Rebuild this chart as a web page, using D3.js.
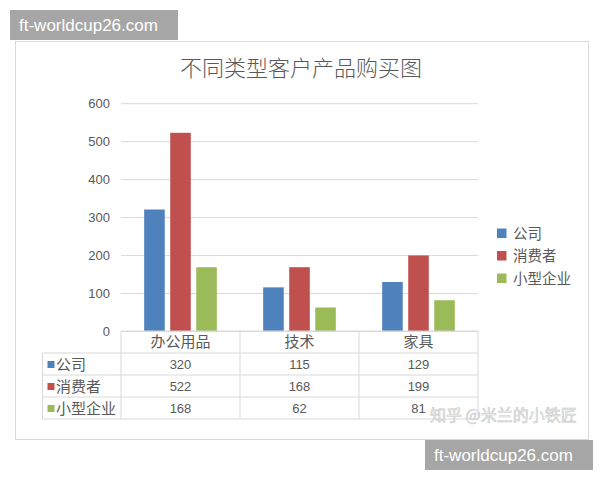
<!DOCTYPE html>
<html>
<head>
<meta charset="utf-8">
<script src="https://cdn.jsdelivr.net/npm/d3@7"></script>
<style>
  body { margin: 0; background: #fff; }
  text { font-family: "Noto Sans CJK SC", "Noto Sans", sans-serif; }
  .num { font-family: "Liberation Sans", Arial, sans-serif; }
</style>
</head>
<body>
<div class="root"></div>
<script>
const categories = ['办公用品', '技术', '家具'];
const seriesNames = ['公司', '消费者', '小型企业'];
const company = [320, 115, 129];
const consumer = [522, 168, 199];
const smallBiz = [168, 62, 81];
const yTicks = [0, 100, 200, 300, 400, 500, 600];
const colors = ['#4F81BD', '#C0504D', '#9BBB59'];

const series = [company, consumer, smallBiz];

const width = 600;
const height = 480;
const plot = { left: 121, right: 478, top: 103.2, bottom: 331 };
const rowH = 22;

const svg = d3.select('.root')
  .append('svg')
  .attr('width', width)
  .attr('height', height);

// chart frame
svg.append('rect')
  .attr('x', 15.5).attr('y', 41.5)
  .attr('width', 573).attr('height', 398)
  .attr('fill', '#fff')
  .attr('stroke', '#d9d9d9');

svg.append('text')
  .attr('x', 301).attr('y', 76)
  .attr('text-anchor', 'middle')
  .attr('font-size', 22)
  .attr('font-weight', 300)
  .attr('fill', '#595959')
  .text('不同类型客户产品购买图');

const x = d3.scaleBand()
  .domain(categories)
  .range([plot.left, plot.right]);

const xInner = d3.scaleBand()
  .domain(seriesNames)
  .range([0, x.bandwidth()])
  .paddingInner(0.21)
  .paddingOuter(0.89);

const y = d3.scaleLinear()
  .domain([0, 600])
  .range([plot.bottom, plot.top]);

const yAxis = svg.append('g')
  .attr('transform', `translate(${plot.left},0)`)
  .call(d3.axisLeft(y)
    .tickValues(yTicks)
    .tickSize(-(plot.right - plot.left))
    .tickPadding(11));

yAxis.select('.domain').remove();
yAxis.selectAll('.tick line').attr('stroke', '#d9d9d9');
yAxis.selectAll('.tick text')
  .attr('class', 'num')
  .attr('fill', '#595959')
  .attr('font-size', 13)
  .style('font-family', '"Liberation Sans", Arial, sans-serif');

// bars
const groups = svg.selectAll('.series')
  .data(series)
  .enter()
  .append('g')
  .attr('class', 'series')
  .attr('fill', (d, i) => colors[i]);

groups.selectAll('rect')
  .data((d, i) => d.map((v, j) => ({ v, cat: categories[j], s: seriesNames[i] })))
  .enter()
  .append('rect')
  .attr('x', d => x(d.cat) + xInner(d.s))
  .attr('width', xInner.bandwidth())
  .attr('y', d => y(d.v))
  .attr('height', d => y(0) - y(d.v));

// data table
const tbl = svg.append('g').attr('stroke', '#d9d9d9').attr('fill', 'none');
const tableLeft = 42.5;
const tableBottom = plot.bottom + rowH * 4;

// horizontal lines
tbl.append('line')
  .attr('x1', plot.left).attr('x2', plot.right)
  .attr('y1', plot.bottom).attr('y2', plot.bottom);
d3.range(1, 5).forEach(r => {
  tbl.append('line')
    .attr('x1', tableLeft).attr('x2', plot.right)
    .attr('y1', plot.bottom + rowH * r).attr('y2', plot.bottom + rowH * r);
});
// vertical lines
categories.concat(['end']).forEach((c, i) => {
  const xv = i < categories.length ? x(c) : plot.right;
  tbl.append('line')
    .attr('x1', xv).attr('x2', xv)
    .attr('y1', plot.bottom).attr('y2', tableBottom);
});
tbl.append('line')
  .attr('x1', tableLeft).attr('x2', tableLeft)
  .attr('y1', plot.bottom + rowH).attr('y2', tableBottom);

// category header
svg.selectAll('.cat')
  .data(categories)
  .enter()
  .append('text')
  .attr('class', 'cat')
  .attr('x', d => x(d) + x.bandwidth() / 2)
  .attr('y', plot.bottom + rowH / 2 + 5)
  .attr('text-anchor', 'middle')
  .attr('font-size', 15)
  .attr('fill', '#595959')
  .text(d => d);

// row labels with keys
seriesNames.forEach((name, i) => {
  const cy = plot.bottom + rowH * (i + 1) + rowH / 2;
  svg.append('rect')
    .attr('x', 47.5).attr('y', cy - 3)
    .attr('width', 7).attr('height', 7)
    .attr('fill', colors[i]);
  svg.append('text')
    .attr('x', 56).attr('y', cy + 5.5)
    .attr('font-size', 15)
    .attr('fill', '#595959')
    .text(name);
  svg.selectAll('.val' + i)
    .data(series[i])
    .enter()
    .append('text')
    .attr('class', 'num')
    .attr('x', (d, j) => x(categories[j]) + x.bandwidth() / 2)
    .attr('y', cy + 4.5)
    .attr('text-anchor', 'middle')
    .attr('font-size', 13)
    .attr('fill', '#595959')
    .text(d => d);
});

// legend
const legend = svg.selectAll('.legend')
  .data(seriesNames)
  .enter()
  .append('g')
  .attr('class', 'legend')
  .attr('transform', (d, i) => `translate(497, ${233 + i * 22.5})`);
legend.append('rect')
  .attr('x', 0).attr('y', -4.5)
  .attr('width', 9.5).attr('height', 9.5)
  .attr('fill', (d, i) => colors[i]);
legend.append('text')
  .attr('x', 16).attr('y', 5.5)
  .attr('font-size', 14.5)
  .attr('fill', '#595959')
  .text(d => d);

// watermarks
svg.append('text')
  .attr('x', 430).attr('y', 421)
  .attr('font-size', 16)
  .attr('fill', '#f4f4f4')
  .attr('stroke', '#c8c8c8')
  .attr('stroke-width', 0.6)
  .text('知乎 @米兰的小铁匠');

svg.append('rect')
  .attr('x', 10).attr('y', 10)
  .attr('width', 168).attr('height', 30)
  .attr('fill', '#a6a6a6');
svg.append('text')
  .attr('class', 'num')
  .attr('x', 19).attr('y', 31)
  .attr('font-size', 17)
  .attr('fill', '#fff')
  .text('ft-worldcup26.com');

svg.append('rect')
  .attr('x', 425).attr('y', 440)
  .attr('width', 168).attr('height', 30)
  .attr('fill', '#a6a6a6');
svg.append('text')
  .attr('class', 'num')
  .attr('x', 434).attr('y', 461)
  .attr('font-size', 17)
  .attr('fill', '#fff')
  .text('ft-worldcup26.com');
</script>
</body>
</html>
